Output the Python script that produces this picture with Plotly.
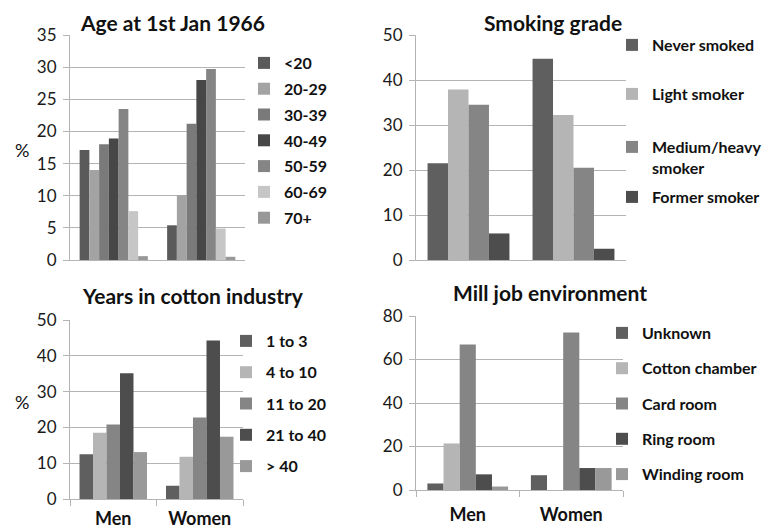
import plotly.graph_objects as go

W, H = 772, 530
groups = ["Men", "Women"]

age_labels = ["<20", "20-29", "30-39", "40-49", "50-59", "60-69", "70+"]
age_men = [17.1, 14.0, 18.0, 18.9, 23.5, 7.6, 0.6]
age_women = [5.4, 10.1, 21.2, 28.0, 29.7, 4.9, 0.5]
age_colors = ["#5a5a5a", "#a3a3a3", "#7a7a7a", "#474747", "#858585", "#c6c6c6", "#989898"]

smoke_labels = ["Never smoked", "Light smoker", "Medium/heavy<br>smoker", "Former smoker"]
smoke_men = [21.5, 37.9, 34.5, 5.9]
smoke_women = [44.7, 32.2, 20.5, 2.5]
smoke_colors = ["#5f5f5f", "#b5b5b5", "#858585", "#4d4d4d"]

years_labels = ["1 to 3", "4 to 10", "11 to 20", "21 to 40", "> 40"]
years_men = [12.5, 18.5, 20.8, 35.1, 13.1]
years_women = [3.7, 11.8, 22.8, 44.3, 17.4]
years_colors = ["#5f5f5f", "#b5b5b5", "#858585", "#4d4d4d", "#999999"]

mill_labels = ["Unknown", "Cotton chamber", "Card room", "Ring room", "Winding room"]
mill_men = [3.0, 21.4, 66.9, 7.2, 1.6]
mill_women = [6.8, 0.0, 72.4, 10.1, 10.1]
mill_colors = ["#5f5f5f", "#b5b5b5", "#858585", "#4d4d4d", "#999999"]

FONT = "Lato"

# the page shows the figure shifted by the body margin (8px)
OX, OY = 8, 8


def fx(X):
    return (X - OX) / W


def fy(Y):
    return 1 - (Y - OY) / H


fig = go.Figure()

smoke_legends = ["legend2", "legend5", "legend6", "legend7"]
panels = [
    (age_labels, age_men, age_women, age_colors, "", ["legend"] * 7),
    (smoke_labels, smoke_men, smoke_women, smoke_colors, "2", smoke_legends),
    (years_labels, years_men, years_women, years_colors, "3", ["legend3"] * 5),
    (mill_labels, mill_men, mill_women, mill_colors, "4", ["legend4"] * 5),
]

for labels, men, women, colors, sfx, legs in panels:
    for i, lab in enumerate(labels):
        fig.add_trace(go.Bar(
            x=groups, y=[men[i], women[i]], name=lab,
            marker=dict(color=colors[i], line=dict(width=0)),
            xaxis="x" + sfx, yaxis="y" + sfx, legend=legs[i],
            legendgroup=legs[i] + "_" + str(i),
        ))

grid = "#b4b4b4"
tickfont = dict(family=FONT, size=17, color="#1a1a1a")
catfont = dict(family=FONT, size=18, color="#111111", weight="bold")


def yax(ytop, ybot, rng, dt, anchor):
    return dict(domain=[fy(ybot), fy(ytop)], range=rng, dtick=dt, showgrid=True,
                gridcolor=grid, gridwidth=1, showline=True, linecolor=grid,
                ticks="outside", ticklen=6, tickcolor=grid, tickfont=tickfont,
                anchor=anchor, zeroline=False, fixedrange=True,
                ticklabelstandoff=3)


def xax(x0, x1, anchor, labels_on, standoff=0):
    return dict(domain=[fx(x0), fx(x1)], anchor=anchor, showline=True, linecolor=grid,
                showticklabels=labels_on, ticks="outside" if labels_on else "",
                tickson="boundaries", ticklen=6, tickcolor=grid, tickfont=catfont,
                fixedrange=True, ticklabelstandoff=standoff)


legfont = dict(family=FONT, size=16, color="#111111", weight="bold")


def legend(X, Y, gap, valign="middle"):
    return dict(x=fx(X), y=fy(Y), xanchor="left", yanchor="top",
                font=legfont, traceorder="grouped", tracegroupgap=gap,
                valign=valign, bgcolor="rgba(0,0,0,0)",
                itemclick=False, itemdoubleclick=False)


fig.update_layout(
    width=W, height=H, margin=dict(l=0, r=0, t=0, b=0, autoexpand=False),
    paper_bgcolor="white", plot_bgcolor="white",
    barmode="group", bargroupgap=0.0, bargap=0.22,
    showlegend=True,
    xaxis=xax(70, 245, "y", False),
    yaxis=yax(35, 260, [0, 35], 5, "x"),
    xaxis2=xax(416, 626, "y2", False),
    yaxis2=yax(35, 260, [0, 50], 10, "x2"),
    xaxis3=xax(70, 243, "y3", True, 3),
    yaxis3=yax(320, 499, [0, 50], 10, "x3"),
    xaxis4=xax(416, 623, "y4", True, 8),
    yaxis4=yax(316, 490, [0, 80], 20, "x4"),
    legend=legend(244, 46, 2),
    legend2=legend(612, 28, 0),
    legend5=legend(612, 77, 0),
    legend6=legend(612, 130, 0, "top"),
    legend7=legend(612, 180, 0),
    legend3=legend(226, 324, 7.5),
    legend4=legend(602, 316, 11.5),
)

titlefont = dict(family=FONT, size=21, color="#111111", weight="bold")
titles = [("Age at 1st Jan 1966", 172, "top", 8), ("Smoking grade", 553, "top", 8),
          ("Years in cotton industry", 193, "middle", 295),
          ("Mill job environment", 550, "middle", 292)]
for t, X, anchor, Y in titles:
    fig.add_annotation(text=t, x=fx(X), y=fy(Y), xref="paper", yref="paper",
                       showarrow=False, font=titlefont, xanchor="center", yanchor=anchor)

for Y in (150, 402):
    fig.add_annotation(text="%", x=fx(22), y=fy(Y), xref="paper", yref="paper",
                       showarrow=False, font=dict(family=FONT, size=18, color="#111111"),
                       xanchor="center", yanchor="middle")

fig.write_html("out.html")
